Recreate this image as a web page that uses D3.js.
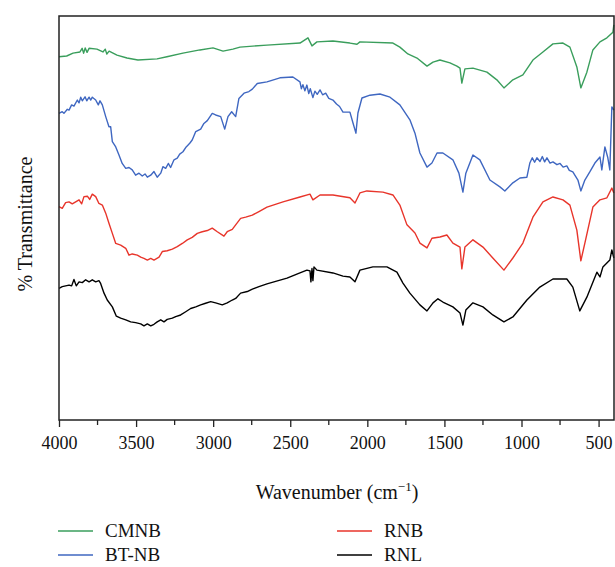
<!DOCTYPE html>
<html>
<head>
<meta charset="utf-8">
<script src="https://cdn.jsdelivr.net/npm/d3@7"></script>
<style>
  body { margin: 0; background: #fff; }
  text { font-family: "Liberation Serif", "DejaVu Serif", serif; fill: #111; }
</style>
</head>
<body>
<div id="chart"></div>
<script>
// FTIR spectra, [wavenumber cm-1, % transmittance (arbitrary offset)]
const cmnb = [
  [4000, 89.9], [3950, 90.1], [3909, 90.8], [3864, 91.1], [3850, 92.0], [3840, 90.8],
  [3830, 92.1], [3818, 91.0], [3805, 92.0], [3754, 91.8], [3715, 91.1], [3700, 91.8],
  [3690, 90.6], [3675, 91.3], [3624, 90.3], [3559, 89.6], [3488, 89.1], [3364, 89.4],
  [3300, 89.9], [3196, 90.8], [3086, 91.6], [3001, 92.1], [2936, 91.3], [2872, 91.8],
  [2826, 92.3], [2651, 92.8], [2437, 93.3], [2385, 94.6], [2359, 92.6], [2327, 93.6],
  [2223, 93.8], [2113, 93.3], [2067, 93.0], [2048, 93.6], [1834, 93.3], [1789, 92.3],
  [1737, 90.6], [1678, 89.6], [1613, 87.6], [1574, 88.6], [1529, 89.1], [1464, 88.4],
  [1419, 87.6], [1399, 87.1], [1387, 83.4], [1367, 86.9], [1315, 87.1], [1224, 86.1],
  [1160, 84.2], [1114, 82.2], [1056, 84.2], [991, 85.4], [926, 89.1], [861, 91.1],
  [796, 93.1], [731, 93.3], [686, 92.3], [641, 87.4], [615, 82.2], [576, 86.1],
  [537, 91.6], [491, 93.6], [446, 94.6], [407, 96.0], [401, 97.8]
];
const btnb = [
  [4000, 75.9], [3979, 76.3], [3968, 75.9], [3946, 76.9], [3935, 76.7], [3918, 78.0],
  [3903, 77.7], [3881, 79.2], [3870, 78.5], [3859, 79.9], [3849, 79.0], [3831, 80.0],
  [3820, 79.0], [3805, 79.9], [3794, 79.2], [3784, 79.9], [3762, 79.2], [3745, 78.0],
  [3734, 79.0], [3719, 78.0], [3697, 75.1], [3676, 72.6], [3665, 72.6], [3654, 68.9],
  [3632, 67.6], [3611, 65.6], [3590, 63.5], [3567, 62.3], [3546, 62.5], [3525, 61.9],
  [3503, 60.6], [3481, 61.1], [3460, 60.4], [3442, 60.9], [3427, 60.1], [3405, 60.6],
  [3384, 61.5], [3363, 60.1], [3340, 61.1], [3326, 62.7], [3308, 62.3], [3291, 63.5],
  [3276, 62.5], [3254, 64.4], [3233, 64.8], [3217, 65.8], [3196, 66.4], [3175, 67.6],
  [3152, 68.5], [3136, 69.3], [3113, 71.4], [3081, 72.0], [3060, 73.4], [3038, 74.1],
  [3006, 75.9], [2984, 75.5], [2951, 75.1], [2925, 72.0], [2904, 75.1], [2880, 76.3],
  [2854, 75.1], [2833, 79.6], [2800, 80.9], [2768, 81.3], [2746, 81.9], [2714, 83.3],
  [2651, 83.7], [2567, 84.7], [2483, 84.9], [2437, 83.7], [2428, 82.0], [2418, 83.0],
  [2405, 81.5], [2392, 82.9], [2380, 80.8], [2370, 82.0], [2353, 79.8], [2340, 81.4],
  [2325, 80.6], [2307, 81.7], [2290, 80.5], [2270, 80.9], [2250, 79.6], [2223, 79.2],
  [2200, 78.2], [2180, 77.6], [2158, 76.2], [2113, 76.2], [2093, 73.5],
  [2074, 71.0], [2061, 76.0], [2035, 79.7], [1983, 80.4], [1918, 80.7], [1853, 79.9],
  [1789, 78.0], [1724, 74.3], [1691, 71.0], [1659, 66.1], [1613, 62.6], [1581, 63.6],
  [1548, 66.1], [1510, 66.1], [1445, 64.4], [1406, 61.1], [1380, 56.4], [1361, 61.1],
  [1315, 65.6], [1270, 64.4], [1205, 59.4], [1140, 57.7], [1108, 56.7], [1056, 58.7],
  [1010, 59.9], [965, 60.1], [946, 63.6], [930, 64.9], [915, 63.8], [900, 64.9],
  [880, 64.0], [865, 65.2], [850, 63.9], [835, 64.9], [815, 63.6], [796, 63.9],
  [770, 63.2], [750, 63.5], [730, 62.6], [706, 62.9], [690, 61.8],
  [667, 61.4], [634, 59.4], [615, 56.7], [589, 59.4], [557, 61.4],
  [524, 63.6], [491, 65.1], [479, 61.9], [459, 67.6], [440, 64.9], [427, 61.9],
  [414, 77.5], [401, 76.7]
];
const rnb = [
  [4000, 52.8], [3979, 52.4], [3957, 53.8], [3935, 54.0], [3914, 53.5], [3892, 54.0],
  [3870, 54.5], [3853, 53.5], [3838, 55.3], [3816, 55.4], [3801, 54.6], [3784, 55.9],
  [3762, 55.3], [3741, 53.6], [3719, 53.2], [3697, 51.2], [3676, 48.7], [3654, 46.2],
  [3632, 43.7], [3600, 43.3], [3567, 42.5], [3546, 40.8], [3525, 41.1], [3492, 40.8],
  [3470, 40.3], [3449, 40.0], [3427, 39.6], [3405, 40.0], [3384, 39.6], [3351, 40.3],
  [3330, 41.7], [3298, 41.9], [3265, 42.3], [3233, 42.9], [3200, 43.7], [3168, 44.6],
  [3136, 45.2], [3103, 46.2], [3071, 46.6], [3038, 46.9], [3006, 47.5], [2973, 46.6],
  [2930, 45.5], [2909, 46.6], [2876, 47.2], [2854, 48.3], [2822, 49.9], [2789, 50.2],
  [2746, 50.7], [2703, 51.6], [2651, 52.7], [2547, 54.0], [2437, 55.2], [2372, 55.9],
  [2353, 54.5], [2307, 55.7], [2223, 55.7], [2113, 55.0], [2080, 53.7], [2048, 56.2],
  [2003, 56.7], [1899, 56.4], [1834, 55.7], [1789, 53.2], [1743, 48.3], [1691, 46.3],
  [1659, 43.8], [1613, 42.6], [1581, 45.0], [1529, 45.3], [1484, 45.8], [1445, 43.8],
  [1399, 42.8], [1387, 37.4], [1367, 42.8], [1315, 44.6], [1250, 42.8], [1186, 40.1],
  [1114, 37.1], [1056, 40.1], [991, 43.8], [926, 50.2], [861, 54.0], [796, 55.2],
  [731, 54.5], [686, 53.2], [641, 47.0], [615, 39.4], [589, 43.8], [537, 52.7],
  [491, 54.5], [446, 55.0], [414, 57.4], [401, 56.2]
];
const rnl = [
  [4000, 32.6], [3979, 33.0], [3957, 33.2], [3935, 33.4], [3918, 33.2], [3903, 34.8],
  [3888, 33.2], [3870, 34.2], [3849, 34.0], [3827, 34.7], [3805, 34.2], [3784, 34.7],
  [3762, 34.2], [3741, 34.5], [3730, 33.8], [3708, 31.4], [3687, 29.7], [3654, 28.0],
  [3628, 25.7], [3600, 25.2], [3567, 24.8], [3535, 24.3], [3503, 24.1], [3470, 23.8],
  [3449, 23.3], [3427, 23.8], [3405, 23.3], [3384, 23.7], [3363, 24.3], [3340, 24.8],
  [3319, 24.3], [3298, 24.9], [3265, 25.2], [3243, 25.6], [3211, 26.0], [3178, 26.8],
  [3146, 27.6], [3113, 28.0], [3081, 28.5], [3049, 28.9], [3016, 29.3], [2984, 29.0],
  [2941, 28.5], [2909, 29.0], [2876, 29.7], [2854, 30.1], [2822, 31.4], [2779, 31.8],
  [2746, 32.4], [2703, 33.0], [2651, 33.7], [2521, 35.1], [2437, 36.4], [2392, 37.1],
  [2372, 36.9], [2366, 34.2], [2359, 37.5], [2353, 34.5], [2346, 37.9], [2327, 37.1],
  [2223, 36.4], [2158, 35.6], [2113, 35.4], [2080, 34.2], [2048, 37.1], [1964, 37.9],
  [1873, 37.9], [1808, 36.6], [1769, 33.9], [1724, 31.4], [1659, 28.5], [1613, 27.0],
  [1574, 29.0], [1542, 30.0], [1510, 29.2], [1445, 28.0], [1399, 26.5], [1380, 23.5],
  [1361, 27.2], [1315, 29.0], [1250, 28.0], [1186, 26.0], [1114, 24.3], [1056, 25.5],
  [965, 29.7], [881, 32.9], [796, 34.9], [706, 34.9], [667, 32.9], [622, 27.0],
  [576, 30.4], [511, 36.6], [491, 35.4], [472, 37.9], [427, 39.6], [414, 42.1], [401, 40.1]
];

const seriesNames = ["CMNB", "BT-NB", "RNB", "RNL"];
const seriesColors = ["#3a9e5c", "#3f67c1", "#e8352b", "#000000"];
const seriesData = [cmnb, btnb, rnb, rnl];
const xTicks = [4000, 3500, 3000, 2500, 2000, 1500, 1000, 500];
const xMinor = [3750, 3250, 2750, 2250, 1750, 1250, 750];

const w = 615, h = 567;
const margin = {top: 16, right: 1, bottom: 147, left: 59};

const svg = d3.select("#chart").append("svg")
  .attr("width", w)
  .attr("height", h);

const xScale = d3.scaleLinear()
  .domain([4000, 400])
  .range([margin.left, w - margin.right]);

const yScale = d3.scaleLinear()
  .domain([0, 100])
  .range([h - margin.bottom, margin.top]);

const line = d3.line()
  .x(d => xScale(d[0]))
  .y(d => yScale(d[1]));

// spectra
svg.selectAll("path.spec")
  .data(seriesData)
  .enter()
  .append("path")
  .attr("class", "spec")
  .attr("d", line)
  .attr("fill", "none")
  .attr("stroke", (d, i) => seriesColors[i])
  .attr("stroke-width", 1.4)
  .attr("stroke-linejoin", "round");

// frame
svg.append("rect")
  .attr("x", margin.left)
  .attr("y", margin.top)
  .attr("width", w - margin.right - margin.left)
  .attr("height", h - margin.bottom - margin.top)
  .attr("fill", "none")
  .attr("stroke", "#222")
  .attr("stroke-width", 1.5);

// x axis
const xAxis = svg.append("g")
  .attr("transform", `translate(0,${h - margin.bottom})`)
  .call(d3.axisBottom(xScale).tickValues(xTicks).tickSize(7).tickPadding(9).tickFormat(d3.format("d")));
xAxis.select(".domain").remove();
xAxis.selectAll("line").attr("stroke", "#222").attr("stroke-width", 1.3);
xAxis.selectAll("text").style("font-size", "18px").style("font-family", "Liberation Serif");

svg.append("g")
  .attr("transform", `translate(0,${h - margin.bottom})`)
  .selectAll("line")
  .data(xMinor)
  .enter()
  .append("line")
  .attr("x1", d => xScale(d))
  .attr("x2", d => xScale(d))
  .attr("y1", 0)
  .attr("y2", 5)
  .attr("stroke", "#222")
  .attr("stroke-width", 1.3);

// axis titles
const xTitle = svg.append("text")
  .attr("x", 337)
  .attr("y", 499)
  .attr("text-anchor", "middle")
  .style("font-size", "20px");
xTitle.append("tspan").text("Wavenumber (cm");
xTitle.append("tspan").attr("dy", -8).style("font-size", "13px").text("\u22121");
xTitle.append("tspan").attr("dy", 8).text(")");

svg.append("text")
  .attr("transform", "translate(32,224) rotate(-90)")
  .attr("text-anchor", "middle")
  .style("font-size", "20px")
  .text("% Transmittance");

// legend
const legendPos = [[58, 531], [58, 555], [337, 531], [337, 555]];
const legend = svg.selectAll("g.leg")
  .data(seriesNames)
  .enter()
  .append("g")
  .attr("class", "leg")
  .attr("transform", (d, i) => `translate(${legendPos[i][0]},${legendPos[i][1]})`);
legend.append("line")
  .attr("x1", 0).attr("x2", 35)
  .attr("y1", 0).attr("y2", 0)
  .attr("stroke", (d, i) => seriesColors[i])
  .attr("stroke-width", 1.3);
legend.append("text")
  .attr("x", 47)
  .attr("y", 6)
  .style("font-size", "19px")
  .text(d => d);
</script>
</body>
</html>
